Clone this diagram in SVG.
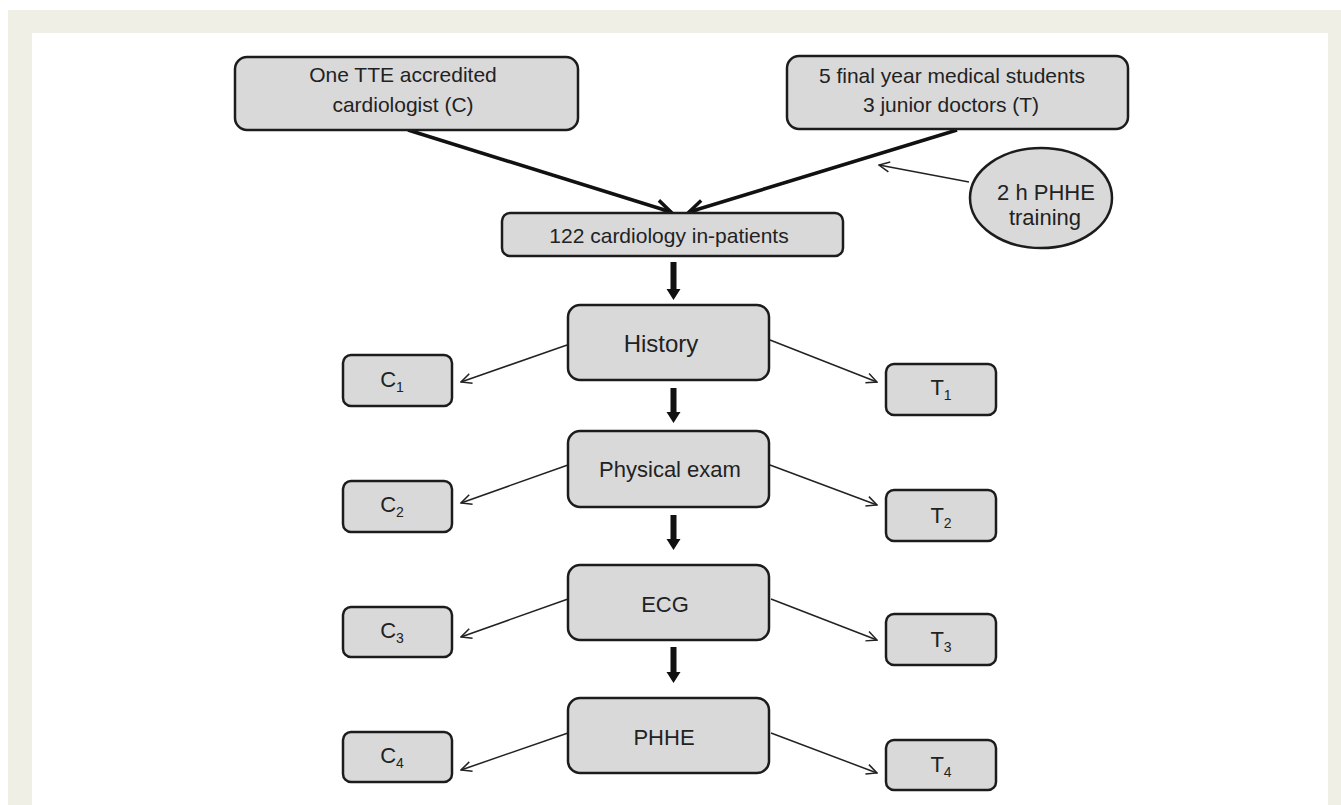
<svg xmlns="http://www.w3.org/2000/svg" width="1341" height="805" viewBox="0 0 1341 805">
  <style>
    .box { fill: #d9d9d9; stroke: #1c1c1c; stroke-width: 2.5; }
    .txt { font-family: "Liberation Sans", Arial, sans-serif; font-size: 21px; fill: #222; text-anchor: middle; }
    .stage { font-size: 22px; }
    .lbl { font-size: 22px; }
    .sub { font-size: 14px; }
    .thin { stroke: #222; stroke-width: 1.5; fill: none; marker-end: url(#thinArrow); }
    .thick { stroke: #111; stroke-width: 3.5; fill: none; marker-end: url(#thickArrow); }
    .block { fill: #111; stroke: none; }
  </style>
  <defs>
    <marker id="thinArrow" markerUnits="userSpaceOnUse" viewBox="0 0 14 14" markerWidth="14" markerHeight="14" refX="12.5" refY="7" orient="auto">
      <path d="M2,2 L12.5,7 L2,12" fill="none" stroke="#222" stroke-width="1.5"/>
    </marker>
    <marker id="thickArrow" markerUnits="userSpaceOnUse" viewBox="0 0 22 22" markerWidth="22" markerHeight="22" refX="19" refY="11" orient="auto">
      <path d="M4,3.5 L19,11 L4,18.5" fill="none" stroke="#111" stroke-width="3.5"/>
    </marker>
  </defs>

  <rect x="8" y="10" width="1333" height="795" fill="#efefe5"/>
  <rect x="32" y="33" width="1296" height="772" fill="#ffffff"/>

  <g id="connectors">
    <line class="thick" x1="408" y1="130" x2="671" y2="212"/>
    <line class="thick" x1="957" y1="130" x2="689" y2="212"/>
    <line class="thin" x1="969" y1="182" x2="879" y2="165"/>
    <polygon class="block" points="670.5,262 676.5,262 676.5,289 680.5,289 673.5,300 666.5,289 670.5,289"/>
    <polygon class="block" points="670.5,388 676.5,388 676.5,412 680.5,412 673.5,423 666.5,412 670.5,412"/>
    <polygon class="block" points="670.5,515 676.5,515 676.5,539 680.5,539 673.5,550 666.5,539 670.5,539"/>
    <polygon class="block" points="670.5,647 676.5,647 676.5,672 680.5,672 673.5,683 666.5,672 670.5,672"/>
    <line class="thin" x1="567" y1="345" x2="461" y2="382"/>
    <line class="thin" x1="770" y1="340" x2="877" y2="382"/>
    <line class="thin" x1="568" y1="465" x2="461" y2="503"/>
    <line class="thin" x1="770" y1="465" x2="877" y2="505"/>
    <line class="thin" x1="568" y1="599" x2="461" y2="637"/>
    <line class="thin" x1="771" y1="599" x2="877" y2="640"/>
    <line class="thin" x1="568" y1="733" x2="461" y2="770"/>
    <line class="thin" x1="771" y1="733" x2="877" y2="773"/>
  </g>

  <g id="cardiologist">
    <rect class="box" x="235" y="57" width="343" height="73" rx="12"/>
    <text class="txt" x="403" y="82">One TTE accredited</text>
    <text class="txt" x="403" y="112">cardiologist (C)</text>
  </g>
  <g id="trainees">
    <rect class="box" x="787" y="56" width="341" height="73" rx="12"/>
    <text class="txt" x="952" y="83">5 final year medical students</text>
    <text class="txt" x="951" y="112">3 junior doctors (T)</text>
  </g>
  <g id="training">
    <ellipse class="box" cx="1041" cy="198" rx="71" ry="50"/>
    <text class="txt stage" x="1046" y="200">2 h PHHE</text>
    <text class="txt stage" x="1045" y="225">training</text>
  </g>
  <g id="patients">
    <rect class="box" x="502" y="213" width="341" height="43" rx="8"/>
    <text class="txt" x="669" y="243">122 cardiology in-patients</text>
  </g>

  <g id="history">
    <rect class="box" x="568" y="305" width="201" height="75" rx="12"/>
    <text class="txt stage" x="661" y="352" style="font-size:24px">History</text>
  </g>
  <g id="physical">
    <rect class="box" x="568" y="431" width="201" height="76" rx="12"/>
    <text class="txt stage" x="670" y="477">Physical exam</text>
  </g>
  <g id="ecg">
    <rect class="box" x="568" y="565" width="201" height="75" rx="12"/>
    <text class="txt stage" x="665" y="612">ECG</text>
  </g>
  <g id="phhe">
    <rect class="box" x="568" y="698" width="201" height="75" rx="12"/>
    <text class="txt stage" x="664" y="745">PHHE</text>
  </g>

  <g id="c1">
    <rect class="box" x="343" y="355" width="109" height="51" rx="8"/>
    <text class="txt lbl" x="392" y="387">C<tspan class="sub" dy="5">1</tspan></text>
  </g>
  <g id="c2">
    <rect class="box" x="343" y="481" width="109" height="51" rx="8"/>
    <text class="txt lbl" x="392" y="512">C<tspan class="sub" dy="5">2</tspan></text>
  </g>
  <g id="c3">
    <rect class="box" x="343" y="607" width="109" height="50" rx="8"/>
    <text class="txt lbl" x="392" y="638">C<tspan class="sub" dy="5">3</tspan></text>
  </g>
  <g id="c4">
    <rect class="box" x="343" y="732" width="109" height="50" rx="8"/>
    <text class="txt lbl" x="392" y="763">C<tspan class="sub" dy="5">4</tspan></text>
  </g>

  <g id="t1">
    <rect class="box" x="886" y="364" width="110" height="51" rx="8"/>
    <text class="txt lbl" x="941" y="395">T<tspan class="sub" dy="5">1</tspan></text>
  </g>
  <g id="t2">
    <rect class="box" x="886" y="490" width="110" height="51" rx="8"/>
    <text class="txt lbl" x="941" y="523">T<tspan class="sub" dy="5">2</tspan></text>
  </g>
  <g id="t3">
    <rect class="box" x="886" y="614" width="110" height="51" rx="8"/>
    <text class="txt lbl" x="941" y="647">T<tspan class="sub" dy="5">3</tspan></text>
  </g>
  <g id="t4">
    <rect class="box" x="886" y="740" width="110" height="50" rx="8"/>
    <text class="txt lbl" x="941" y="772">T<tspan class="sub" dy="5">4</tspan></text>
  </g>
</svg>
